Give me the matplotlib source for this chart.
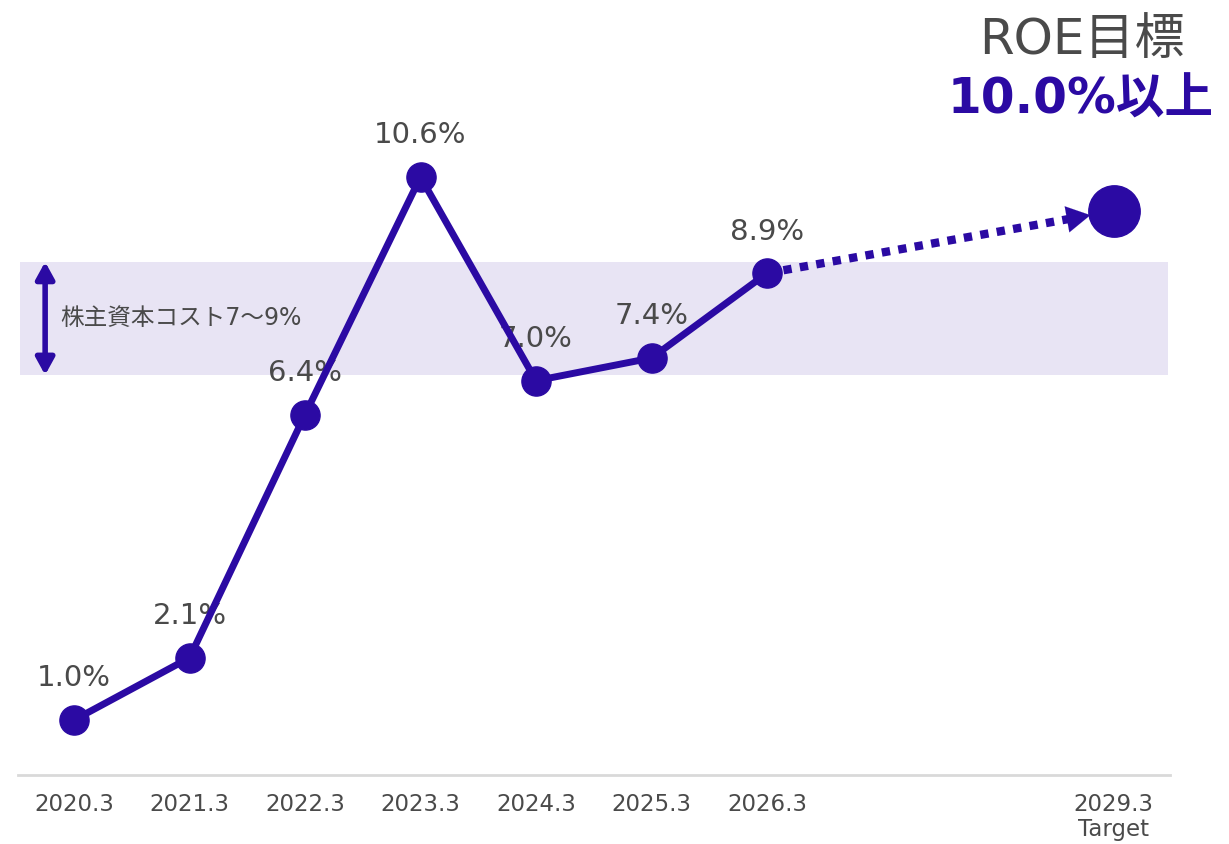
import matplotlib
matplotlib.use('Agg')
import matplotlib.pyplot as plt

plt.rcParams['font.family'] = ['DejaVu Sans', 'Noto Sans CJK JP']

# データ
years = ['2020.3', '2021.3', '2022.3', '2023.3', '2024.3', '2025.3', '2026.3']
roe = [1.0, 2.1, 6.4, 10.6, 7.0, 7.4, 8.9]
target_label = '2029.3\nTarget'
target_roe = 10.0
band_low, band_high = 7.1, 9.1
band_text = '株主資本コスト7～9%'

purple = '#2B0AA3'
grey = '#4a4a4a'

xs = list(range(len(years)))
xt = 9

fig = plt.figure(figsize=(12.29, 8.44), dpi=100)
ax = fig.add_axes([18/1229, 1-775/844, (1170-18)/1229, 775/844])
ax.set_xlim(-0.485, 9.489)
ax.set_ylim(0.028, 13.73)

ax.axhspan(band_low, band_high, xmin=0.002, xmax=0.998, color='#E8E4F4', lw=0, zorder=0)
ax.annotate('', xy=(-0.25, band_high), xytext=(-0.25, band_low),
            arrowprops=dict(arrowstyle='<|-|>,head_length=1.0,head_width=0.55',
                            color=purple, lw=4, shrinkA=0, shrinkB=0))
ax.text(-0.12, (band_low + band_high) / 2, band_text, fontsize=17, color=grey,
        va='center', ha='left')

for x, v in zip(xs, roe):
    ax.annotate(f'{v:.1f}%', (x, v), xytext=(0, 30), textcoords='offset points',
                ha='center', va='center', fontsize=21, color=grey, zorder=1)

ax.plot(xs, roe, color=purple, lw=5, marker='o', markersize=21, zorder=3,
        solid_capstyle='round')

# 目標への点線矢印
x_end = 8.8
slope = (target_roe - roe[-1]) / (xt - xs[-1])
y_end = roe[-1] + slope * (x_end - xs[-1])
ax.plot([xs[-1], x_end - 0.15], [roe[-1], y_end - 0.15 * slope],
        color=purple, lw=6, ls=(0, (1, 1)), zorder=2)
ax.annotate('', xy=(x_end, y_end), xytext=(x_end - 0.2, y_end - 0.2 * slope),
            arrowprops=dict(arrowstyle='-|>,head_length=1.7,head_width=0.95',
                            color=purple, lw=0.1, shrinkA=0, shrinkB=0))
ax.plot([xt], [target_roe], marker='o', markersize=37, color=purple, zorder=3)

ax.set_xticks(xs + [xt])
ax.set_xticklabels(years + [target_label], fontsize=16.5, color=grey, linespacing=1.1, va='top')
ax.tick_params(axis='x', length=0, pad=13)
ax.set_yticks([])
for s in ['left', 'right', 'top']:
    ax.spines[s].set_visible(False)
ax.spines['bottom'].set_color('#d9d9d9')
ax.spines['bottom'].set_linewidth(2)

fig.text(1082/1229, 1-40/844, 'ROE目標', fontsize=36, color=grey, ha='center', va='center')
fig.text(1081/1229, 1-100/844, '10.0%以上', fontsize=35, color=purple, ha='center',
         va='center', fontweight='bold')

fig.savefig('out.png', dpi=100)
